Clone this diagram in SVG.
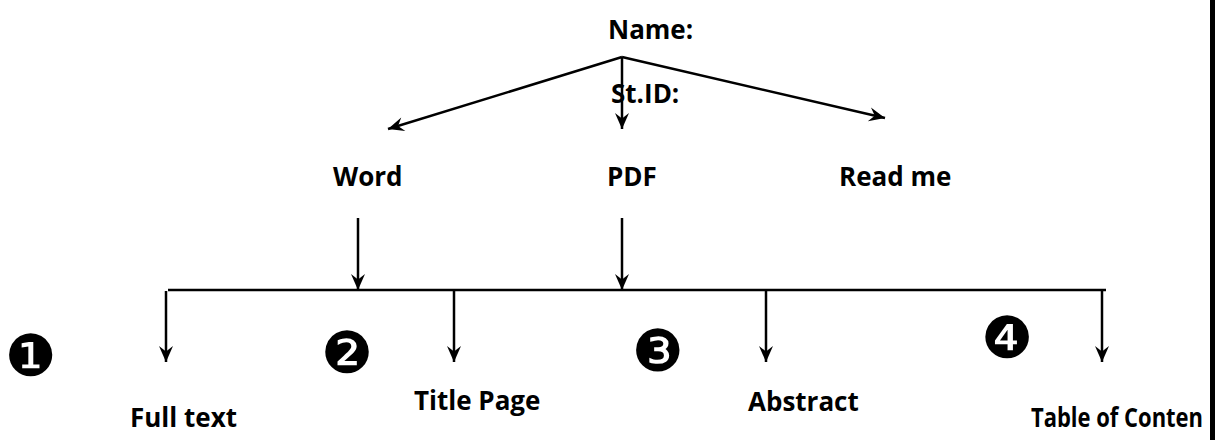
<svg xmlns="http://www.w3.org/2000/svg" width="1215" height="440" viewBox="0 0 1215 440">
<style>
.lbl{font-family:"Open Sans","Liberation Sans",sans-serif;font-weight:700;font-size:26px;fill:#000}
.num{font-family:"DejaVu Sans",sans-serif;font-size:58px;fill:#000;text-anchor:middle}
.ln{stroke:#000;stroke-width:2.5;fill:none}
</style>
<defs>
<marker id="ah" markerUnits="userSpaceOnUse" markerWidth="18" markerHeight="18" viewBox="-17 -9 18 18" refX="0" refY="0" orient="auto">
<path d="M0,0 L-16,-7 L-10.5,0 L-16,7 Z" fill="#000"/>
</marker>
</defs>
<rect width="1215" height="440" fill="#fff"/>
<g id="connectors">
<line class="ln" x1="622" y1="57" x2="388" y2="129" marker-end="url(#ah)"/>
<line class="ln" x1="622" y1="57" x2="622" y2="129" marker-end="url(#ah)"/>
<line class="ln" x1="622" y1="57" x2="885" y2="118" marker-end="url(#ah)"/>
<line class="ln" x1="358" y1="218" x2="358" y2="290" marker-end="url(#ah)"/>
<line class="ln" x1="622" y1="218" x2="622" y2="290" marker-end="url(#ah)"/>
<line class="ln" x1="168" y1="290" x2="1106" y2="290"/>
<line class="ln" x1="166" y1="291" x2="166" y2="362" marker-end="url(#ah)"/>
<line class="ln" x1="454" y1="290" x2="454" y2="362" marker-end="url(#ah)"/>
<line class="ln" x1="766" y1="290" x2="766" y2="362" marker-end="url(#ah)"/>
<line class="ln" x1="1102" y1="290" x2="1102" y2="362" marker-end="url(#ah)"/>
</g>
<g id="name"><text class="lbl" x="608" y="39">Name:</text></g>
<g id="stid"><text class="lbl" x="611" y="103">St.ID:</text></g>
<g id="word"><text class="lbl" x="333" y="186">Word</text></g>
<g id="pdf"><text class="lbl" x="607" y="186">PDF</text></g>
<g id="readme"><text class="lbl" x="839" y="186">Read me</text></g>
<g id="fulltext"><text class="lbl" x="130" y="427">Full text</text></g>
<g id="titlepage"><text class="lbl" x="414" y="410">Title Page</text></g>
<g id="abstract"><text class="lbl" x="748" y="411">Abstract</text></g>
<g id="toc"><text class="lbl" x="1031" y="427" font-size="24" textLength="172" lengthAdjust="spacingAndGlyphs">Table of Conten</text></g>
<g id="n1"><text class="num" x="31" y="376">❶</text></g>
<g id="n2"><text class="num" x="347" y="373">❷</text></g>
<g id="n3"><text class="num" x="658" y="371">❸</text></g>
<g id="n4"><text class="num" x="1007" y="358">❹</text></g>
<rect id="edge" x="1210" y="0" width="5" height="440" fill="#000"/>
</svg>
